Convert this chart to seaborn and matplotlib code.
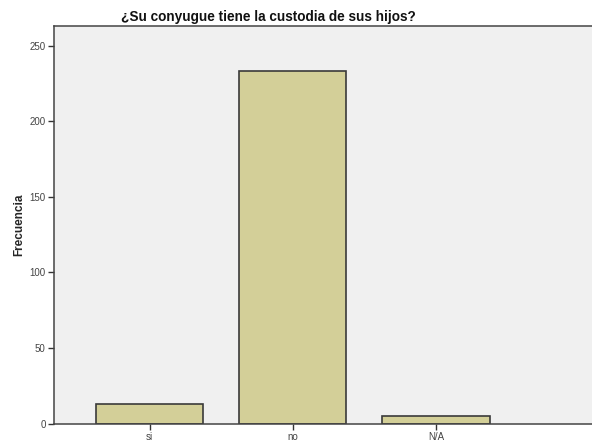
import matplotlib
matplotlib.use("Agg")
import matplotlib.pyplot as plt
import seaborn as sns
import pandas as pd

# datos de la grafica
categorias = ["si", "no", "N/A"]
frecuencias = [13, 233, 5]

df = pd.DataFrame({"Respuesta": categorias, "Frecuencia": frecuencias})

sns.set_style("white")
plt.rcParams["font.family"] = ["Liberation Sans", "DejaVu Sans"]

fig = plt.figure(figsize=(5.92, 4.46), dpi=100)
ax = fig.add_axes([0.0912, 0.0504, 0.9088, 0.8913])
ax.set_facecolor("#F0F0F0")

sns.barplot(x="Respuesta", y="Frecuencia", data=df, color="#D3CF98",
            edgecolor="#3A3A3A", linewidth=1.2, width=0.75, saturation=1, ax=ax)

ax.set_xlim(-0.668, 3.09)
ax.set_ylim(0, 263)
ax.set_yticks([0, 50, 100, 150, 200, 250])
# titulo centrado como en SPSS
fig.text(0.453, 0.962, "¿Su conyugue tiene la custodia de sus hijos?",
         fontsize=9.8, fontweight="bold", ha="center", va="center", color="#111111")
ax.set_xlabel("")
ax.set_ylabel("Frecuencia", fontsize=8.5, fontweight="bold")
ax.yaxis.set_label_coords(-0.054, 0.5)
ax.tick_params(axis="both", labelsize=7, length=4, width=1, color="#333333",
               labelcolor="#444444", pad=2, direction="out")
ax.tick_params(axis="both", which="both", bottom=True, left=True)

for s in ["left", "bottom", "top"]:
    ax.spines[s].set_color("#444444")
    ax.spines[s].set_linewidth(1.1)
ax.spines["right"].set_visible(False)

fig.savefig("out.png", dpi=100)
